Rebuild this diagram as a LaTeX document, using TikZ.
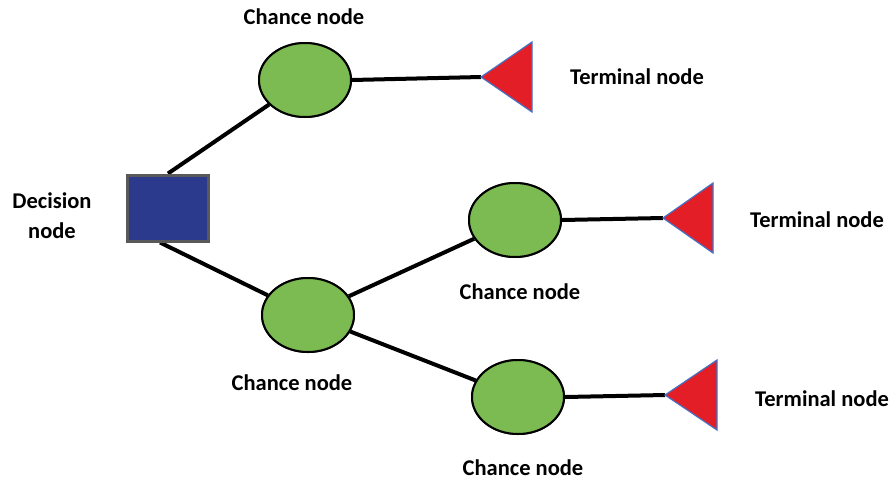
\documentclass[tikz,border=0pt]{standalone}
\usepackage{fontspec}
\setmainfont{Carlito}
\usetikzlibrary{shapes.geometric}
\definecolor{chgreen}{RGB}{124,186,82}
\definecolor{termred}{RGB}{228,30,38}
\definecolor{termblue}{RGB}{68,114,196}
\definecolor{decblue}{RGB}{44,58,142}
\definecolor{decgray}{RGB}{89,89,89}
\tikzset{
  chance/.style={ellipse, draw=black, line width=2pt, fill=chgreen, minimum width=92pt, minimum height=74pt, inner sep=0pt},
  decision/.style={rectangle, draw=decgray, line width=3pt, fill=decblue, minimum width=81pt, minimum height=66pt, inner sep=0pt},
  terminal/.style={draw=termblue, line width=1.2pt, fill=termred, line join=miter},
  lbl/.style={font=\bfseries\fontsize{22.5}{30}\selectfont, inner sep=0pt, align=center},
  conn/.style={line width=4pt, black}
}
\begin{document}
\begin{tikzpicture}[x=1pt,y=-1pt]
\useasboundingbox (0,0) rectangle (896,483);
% nodes
\node[decision] (d) at (168,208) {};
\node[chance] (c1) at (305,80) {};
\node[chance] (c2) at (515,220) {};
\node[chance] (c3) at (308,315) {};
\node[chance] (c4) at (518,397) {};
% terminals (triangles pointing left)
\coordinate (t1) at (481,77);
\coordinate (t2) at (663,218);
\coordinate (t3) at (665,395);
% connectors
\draw[conn] (d.north) -- (c1);
\draw[conn] ([xshift=-8pt]d.south) -- (c3);
\draw[conn] (c3) -- (c2);
\draw[conn] (c3) -- (c4);
\draw[conn] (c1.east) -- (t1);
\draw[conn] (c2.east) -- (t2);
\draw[conn] (c4.east) -- (t3);
% redraw shapes on top of connectors
\node[chance] at (c1) {};
\node[chance] at (c2) {};
\node[chance] at (c3) {};
\node[chance] at (c4) {};
\node[decision] at (d) {};
\draw[terminal] (t1) -- (532,42) -- (532,112) -- cycle;
\draw[terminal] (t2) -- (713,183) -- (713,253) -- cycle;
\draw[terminal] (t3) -- (717,360) -- (717,430) -- cycle;
% labels
\node[lbl] (l1) at (304,17) {Chance node};
\node[lbl] (l2) at (637,77) {Terminal node};
\node[lbl] (l3) at (52,216) {Decision\\node};
\node[lbl] (l4) at (817,220) {Terminal node};
\node[lbl] (l5) at (520,292) {Chance node};
\node[lbl] (l6) at (292,383) {Chance node};
\node[lbl,anchor=west] (l7) at (755,399) {Terminal node};
\node[lbl] (l8) at (523,468) {Chance node};
\end{tikzpicture}
\end{document}
